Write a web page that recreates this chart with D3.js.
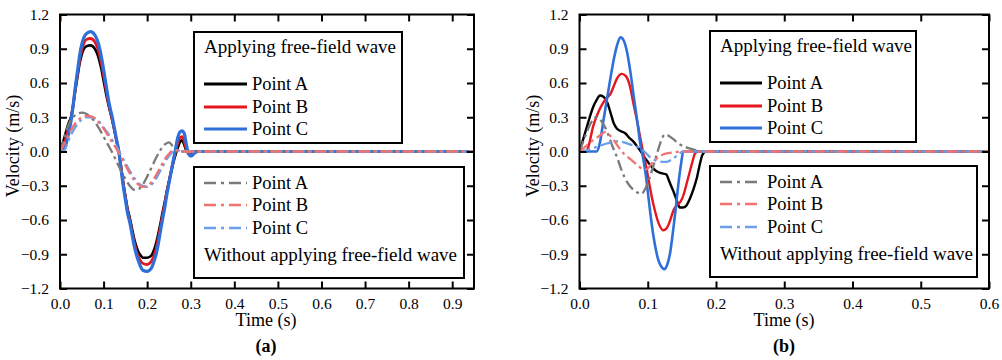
<!DOCTYPE html>
<html>
<head>
<meta charset="utf-8">
<script src="https://cdn.jsdelivr.net/npm/d3@7"></script>
<style>
  body { margin: 0; background: #fff; }
  svg text { font-family: "Liberation Serif", "Times New Roman", serif; fill: #000; }
</style>
</head>
<body>
<div id="chart"></div>
<script>
// ---- data (time in s, velocity in m/s) ----
const yTicks = [1.2, 0.9, 0.6, 0.3, 0.0, -0.3, -0.6, -0.9, -1.2];
const xTicksA = [0, 0.1, 0.2, 0.3, 0.4, 0.5, 0.6, 0.7, 0.8, 0.9];
const xTicksB = [0, 0.1, 0.2, 0.3, 0.4, 0.5, 0.6];
const pointNames = ["Point A", "Point B", "Point C"];

// panel (a), applying free-field wave
const aApplyA = [[0,0],[0.005,0.06],[0.01,0.12],[0.015,0.19],[0.02,0.25],[0.025,0.3],[0.03,0.4],[0.035,0.53],[0.04,0.65],[0.045,0.77],[0.05,0.85],[0.055,0.9],[0.06,0.92],[0.07,0.93],[0.08,0.9],[0.085,0.86],[0.09,0.8],[0.095,0.72],[0.1,0.62],[0.105,0.52],[0.11,0.43],[0.115,0.35],[0.12,0.27],[0.125,0.18],[0.13,0.09],[0.135,0],[0.14,-0.13],[0.145,-0.27],[0.15,-0.39],[0.155,-0.5],[0.16,-0.58],[0.165,-0.67],[0.17,-0.76],[0.175,-0.83],[0.18,-0.88],[0.185,-0.91],[0.19,-0.93],[0.2,-0.93],[0.21,-0.91],[0.215,-0.87],[0.22,-0.81],[0.225,-0.73],[0.23,-0.64],[0.235,-0.54],[0.24,-0.45],[0.245,-0.35],[0.25,-0.26],[0.255,-0.18],[0.26,-0.1],[0.265,-0.03],[0.27,0.03],[0.275,0.08],[0.28,0.1],[0.285,0.06],[0.29,0.01],[0.3,0],[0.95,0]];
const aApplyB = [[0,0],[0.005,0.02],[0.01,0.07],[0.015,0.14],[0.02,0.21],[0.025,0.28],[0.03,0.4],[0.035,0.55],[0.04,0.68],[0.045,0.8],[0.05,0.89],[0.055,0.95],[0.06,0.98],[0.07,0.99],[0.08,0.96],[0.085,0.92],[0.09,0.86],[0.095,0.77],[0.1,0.67],[0.105,0.56],[0.11,0.45],[0.115,0.36],[0.12,0.28],[0.125,0.19],[0.13,0.09],[0.135,0],[0.14,-0.14],[0.145,-0.28],[0.15,-0.4],[0.155,-0.52],[0.16,-0.6],[0.165,-0.7],[0.17,-0.79],[0.175,-0.87],[0.18,-0.92],[0.185,-0.96],[0.19,-0.98],[0.2,-0.99],[0.21,-0.96],[0.215,-0.92],[0.22,-0.86],[0.225,-0.77],[0.23,-0.67],[0.235,-0.57],[0.24,-0.47],[0.245,-0.36],[0.25,-0.27],[0.255,-0.17],[0.26,-0.08],[0.265,0],[0.27,0.07],[0.275,0.12],[0.28,0.13],[0.285,0.09],[0.29,0.02],[0.295,-0.02],[0.3,-0.02],[0.31,0],[0.95,0]];
const aApplyC = [[0,0],[0.005,0],[0.01,0.03],[0.015,0.08],[0.02,0.16],[0.025,0.26],[0.03,0.4],[0.035,0.56],[0.04,0.7],[0.045,0.84],[0.05,0.94],[0.055,1.0],[0.06,1.03],[0.07,1.05],[0.08,1.02],[0.085,0.98],[0.09,0.92],[0.095,0.83],[0.1,0.72],[0.105,0.6],[0.11,0.48],[0.115,0.38],[0.12,0.3],[0.125,0.2],[0.13,0.1],[0.135,0],[0.14,-0.15],[0.145,-0.3],[0.15,-0.42],[0.155,-0.54],[0.16,-0.62],[0.165,-0.72],[0.17,-0.82],[0.175,-0.9],[0.18,-0.96],[0.185,-1.01],[0.19,-1.04],[0.2,-1.05],[0.21,-1.02],[0.215,-0.97],[0.22,-0.91],[0.225,-0.82],[0.23,-0.71],[0.235,-0.6],[0.24,-0.5],[0.245,-0.38],[0.25,-0.28],[0.255,-0.18],[0.26,-0.08],[0.265,0.02],[0.27,0.12],[0.275,0.17],[0.28,0.18],[0.285,0.16],[0.29,0.06],[0.295,-0.02],[0.3,-0.04],[0.305,-0.03],[0.31,-0.01],[0.32,0],[0.95,0]];

// panel (a), without applying free-field wave
const aFreeA = [[0,0],[0.01,0.12],[0.02,0.24],[0.03,0.3],[0.04,0.33],[0.05,0.34],[0.06,0.33],[0.07,0.3],[0.08,0.26],[0.09,0.2],[0.1,0.13],[0.11,0.06],[0.12,-0.01],[0.13,-0.09],[0.14,-0.17],[0.15,-0.24],[0.16,-0.3],[0.17,-0.335],[0.18,-0.33],[0.19,-0.29],[0.2,-0.22],[0.21,-0.14],[0.22,-0.06],[0.23,0.01],[0.24,0.06],[0.25,0.08],[0.26,0.04],[0.27,0],[0.95,0]];
const aFreeB = [[0,0],[0.01,0.07],[0.02,0.15],[0.03,0.22],[0.04,0.27],[0.05,0.3],[0.06,0.31],[0.07,0.31],[0.08,0.29],[0.09,0.25],[0.1,0.2],[0.11,0.14],[0.12,0.08],[0.13,0.02],[0.14,-0.05],[0.15,-0.12],[0.16,-0.19],[0.17,-0.25],[0.18,-0.29],[0.19,-0.31],[0.2,-0.3],[0.21,-0.27],[0.22,-0.21],[0.23,-0.14],[0.24,-0.07],[0.25,-0.02],[0.26,0.01],[0.27,0.01],[0.28,0],[0.95,0]];
const aFreeC = [[0,0],[0.01,0.01],[0.015,0.05],[0.02,0.1],[0.03,0.18],[0.04,0.24],[0.05,0.28],[0.06,0.3],[0.07,0.3],[0.08,0.29],[0.09,0.26],[0.1,0.21],[0.11,0.16],[0.12,0.1],[0.13,0.04],[0.14,-0.03],[0.15,-0.1],[0.16,-0.17],[0.17,-0.23],[0.18,-0.28],[0.19,-0.3],[0.2,-0.31],[0.21,-0.29],[0.22,-0.24],[0.23,-0.17],[0.24,-0.1],[0.25,-0.04],[0.26,0],[0.27,0.01],[0.28,0],[0.95,0]];

// panel (b), applying free-field wave
const bApplyA = [[0,0],[0.005,0.1],[0.01,0.2],[0.015,0.3],[0.02,0.39],[0.025,0.45],[0.03,0.49],[0.035,0.48],[0.04,0.44],[0.045,0.35],[0.05,0.25],[0.055,0.2],[0.06,0.18],[0.067,0.16],[0.073,0.12],[0.08,0.08],[0.085,0.04],[0.09,0],[0.095,-0.05],[0.1,-0.09],[0.105,-0.13],[0.11,-0.16],[0.115,-0.18],[0.12,-0.19],[0.127,-0.2],[0.132,-0.27],[0.137,-0.34],[0.142,-0.42],[0.147,-0.49],[0.152,-0.49],[0.157,-0.47],[0.162,-0.41],[0.167,-0.33],[0.172,-0.23],[0.176,-0.12],[0.18,-0.03],[0.185,0],[0.6,0]];
const bApplyB = [[0,0],[0.01,0],[0.013,0.04],[0.02,0.22],[0.028,0.35],[0.035,0.43],[0.04,0.47],[0.045,0.5],[0.05,0.57],[0.055,0.64],[0.062,0.68],[0.068,0.66],[0.074,0.57],[0.079,0.42],[0.085,0.25],[0.089,0.12],[0.093,0],[0.097,-0.11],[0.101,-0.24],[0.106,-0.4],[0.111,-0.53],[0.116,-0.63],[0.123,-0.69],[0.128,-0.67],[0.133,-0.6],[0.138,-0.51],[0.143,-0.47],[0.148,-0.44],[0.153,-0.37],[0.157,-0.28],[0.161,-0.19],[0.165,-0.1],[0.169,-0.02],[0.173,0],[0.6,0]];
const bApplyC = [[0,0],[0.025,0],[0.03,0.08],[0.035,0.27],[0.04,0.45],[0.045,0.63],[0.05,0.8],[0.055,0.93],[0.06,1.0],[0.065,0.97],[0.07,0.86],[0.075,0.68],[0.08,0.46],[0.085,0.25],[0.089,0.07],[0.093,-0.05],[0.097,-0.2],[0.101,-0.4],[0.105,-0.6],[0.11,-0.8],[0.115,-0.94],[0.12,-1.01],[0.124,-1.03],[0.128,-1.0],[0.133,-0.88],[0.137,-0.7],[0.141,-0.5],[0.145,-0.28],[0.149,-0.1],[0.152,0],[0.6,0]];

// panel (b), without applying free-field wave
const bFreeA = [[0,0],[0.005,0.08],[0.01,0.16],[0.015,0.23],[0.02,0.28],[0.024,0.3],[0.03,0.28],[0.035,0.24],[0.04,0.18],[0.045,0.1],[0.05,0.02],[0.055,-0.05],[0.062,-0.17],[0.07,-0.27],[0.078,-0.33],[0.085,-0.36],[0.091,-0.37],[0.096,-0.33],[0.101,-0.26],[0.106,-0.17],[0.111,-0.07],[0.116,0.03],[0.12,0.1],[0.125,0.15],[0.13,0.14],[0.137,0.11],[0.145,0.07],[0.155,0.04],[0.165,0.02],[0.175,0.005],[0.185,0],[0.6,0]];
const bFreeB = [[0,0],[0.01,0.05],[0.02,0.1],[0.03,0.14],[0.037,0.17],[0.043,0.15],[0.05,0.1],[0.057,0.04],[0.065,-0.02],[0.075,-0.07],[0.085,-0.12],[0.095,-0.16],[0.1,-0.15],[0.105,-0.11],[0.111,-0.07],[0.118,-0.04],[0.125,-0.02],[0.135,-0.01],[0.15,0],[0.6,0]];
const bFreeC = [[0,0],[0.01,0.01],[0.02,0.03],[0.03,0.05],[0.04,0.07],[0.05,0.085],[0.058,0.09],[0.065,0.08],[0.075,0.06],[0.085,0.04],[0.095,0],[0.1,-0.03],[0.105,-0.06],[0.112,-0.08],[0.12,-0.09],[0.128,-0.09],[0.135,-0.07],[0.142,-0.04],[0.148,-0.01],[0.152,0],[0.6,0]];

const solidColors = ["#000000", "#e5161c", "#2e6fd9"];
const dashColors = ["#7a7a7a", "#f27272", "#6c9fe8"];
const dashPattern = "11,4,3,4";
// order the dashed curves are painted in (A, C, then B on top)
const dashOrder = [0, 2, 1];

const svg = d3.select("#chart").append("svg")
    .attr("width", 1002)
    .attr("height", 360);

function drawPanel(cfg) {
    const x = d3.scaleLinear().domain([0, cfg.xMax]).range([cfg.left, cfg.right]);
    const y = d3.scaleLinear().domain([-1.2, 1.2]).range([288.5, 14.5]);
    const g = svg.append("g");

    g.append("clipPath").attr("id", cfg.id + "clip")
        .append("rect")
        .attr("x", cfg.left).attr("y", 14.5)
        .attr("width", cfg.right - cfg.left).attr("height", 274);

    const line = d3.line()
        .x(d => x(d[0]))
        .y(d => y(d[1]))
        .curve(d3.curveMonotoneX);

    const curves = g.append("g").attr("clip-path", "url(#" + cfg.id + "clip)");

    cfg.apply.forEach((s, i) => {
        curves.append("path")
            .attr("d", line(s))
            .attr("fill", "none")
            .attr("stroke", solidColors[i])
            .attr("stroke-width", cfg.solidWidth[i])
            .attr("stroke-linejoin", "round");
    });
    // dashed (without free-field wave) painted over the solid ones
    dashOrder.forEach(i => {
        curves.append("path")
            .attr("d", line(cfg.free[i]))
            .attr("fill", "none")
            .attr("stroke", dashColors[i])
            .attr("stroke-width", 2.3)
            .attr("stroke-dasharray", dashPattern);
    });

    // axes with inward ticks on all four sides
    const fmt = d3.format(".1f");
    g.append("g")
        .attr("transform", "translate(0,288.5)")
        .call(d3.axisBottom(x).tickValues(cfg.xTicks).tickFormat(fmt).tickSizeInner(-7).tickSizeOuter(0).tickPadding(9))
        .call(a => a.select(".domain").remove());
    g.append("g")
        .attr("transform", "translate(0,14.5)")
        .call(d3.axisTop(x).tickValues(cfg.xTicks).tickFormat("").tickSizeInner(-7).tickSizeOuter(0))
        .call(a => a.select(".domain").remove());
    g.append("g")
        .attr("transform", "translate(" + cfg.left + ",0)")
        .call(d3.axisLeft(y).tickValues(yTicks).tickFormat(fmt).tickSizeInner(-7).tickSizeOuter(0).tickPadding(11))
        .call(a => a.select(".domain").remove());
    g.append("g")
        .attr("transform", "translate(" + cfg.right + ",0)")
        .call(d3.axisRight(y).tickValues(yTicks).tickFormat("").tickSizeInner(-7).tickSizeOuter(0))
        .call(a => a.select(".domain").remove());

    g.selectAll(".tick line").attr("stroke", "#000").attr("stroke-width", 2);
    g.selectAll(".tick text")
        .style("font-family", '"Liberation Serif", serif')
        .style("font-size", "15.5px");

    // frame
    g.append("rect")
        .attr("x", cfg.left).attr("y", 14.5)
        .attr("width", cfg.right - cfg.left).attr("height", 274)
        .attr("fill", "none").attr("stroke", "#000").attr("stroke-width", 2);

    // legends
    function legend(box, title, titleFirst, colors, dashed) {
        g.append("rect")
            .attr("x", box.x).attr("y", box.y)
            .attr("width", box.w).attr("height", box.h)
            .attr("fill", "#fff").attr("stroke", "#000").attr("stroke-width", 2);
        const tx = box.x + 10;
        const rows = titleFirst ? [52, 75, 97] : [16, 38, 61];
        const titleY = titleFirst ? 21 : 94;
        g.append("text")
            .attr("x", tx).attr("y", box.y + titleY)
            .style("font-size", "19px")
            .text(title);
        pointNames.forEach((name, i) => {
            const ly = box.y + rows[i];
            g.append("line")
                .attr("x1", tx).attr("x2", tx + box.lineLen)
                .attr("y1", ly).attr("y2", ly)
                .attr("stroke", colors[i])
                .attr("stroke-width", dashed ? 2.4 : 3)
                .attr("stroke-dasharray", dashed ? "12,5,3,5" : null);
            g.append("text")
                .attr("x", tx + box.lineLen + 5).attr("y", ly + 6)
                .style("font-size", "18.5px")
                .text(name);
        });
    }
    legend(cfg.box1, "Applying free-field wave", true, solidColors, false);
    legend(cfg.box2, "Without applying free-field wave", false, dashColors, true);

    // axis titles
    svg.append("text")
        .attr("transform", "translate(" + (cfg.left - 41) + ",146) rotate(-90)")
        .attr("text-anchor", "middle")
        .style("font-size", "18px")
        .text("Velocity (m/s)");
    svg.append("text")
        .attr("x", cfg.titleX).attr("y", 326)
        .attr("text-anchor", "middle")
        .style("font-size", "18px")
        .text("Time (s)");
    svg.append("text")
        .attr("x", cfg.titleX).attr("y", 352)
        .attr("text-anchor", "middle")
        .style("font-size", "18px")
        .style("font-weight", "bold")
        .text(cfg.label);
}

drawPanel({
    id: "a", left: 60, right: 474, xMax: 0.95, xTicks: xTicksA,
    apply: [aApplyA, aApplyB, aApplyC], free: [aFreeA, aFreeB, aFreeC],
    solidWidth: [2.6, 2.8, 3.2],
    box1: { x: 194, y: 32, w: 208, h: 111, lineLen: 43 },
    box2: { x: 194, y: 167, w: 270, h: 111, lineLen: 43 },
    titleX: 266, label: "(a)"
});
drawPanel({
    id: "b", left: 579.5, right: 989, xMax: 0.6, xTicks: xTicksB,
    apply: [bApplyA, bApplyB, bApplyC], free: [bFreeA, bFreeB, bFreeC],
    solidWidth: [2.4, 2.4, 2.6],
    box1: { x: 710, y: 31, w: 206, h: 111, lineLen: 42 },
    box2: { x: 710, y: 166, w: 267, h: 111, lineLen: 42 },
    titleX: 784, label: "(b)"
});
</script>
</body>
</html>
